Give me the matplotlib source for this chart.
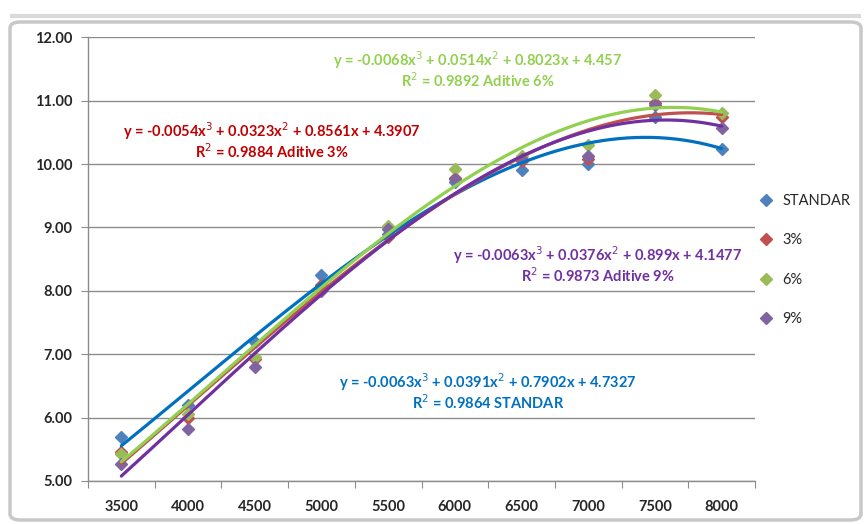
import numpy as np
import matplotlib
matplotlib.use("Agg")
import matplotlib.pyplot as plt
from matplotlib.patches import FancyBboxPatch
from matplotlib.lines import Line2D

# ---- data ----
categories = [3500, 4000, 4500, 5000, 5500, 6000, 6500, 7000, 7500, 8000]
standar = [5.70, 6.20, 7.20, 8.25, 8.90, 9.72, 9.90, 10.00, 10.75, 10.24]
add3 = [5.45, 6.00, 6.92, 8.10, 8.85, 9.78, 10.05, 10.08, 10.96, 10.75]
add6 = [5.42, 6.05, 6.95, 8.05, 9.03, 9.92, 10.12, 10.30, 11.09, 10.81]
add9 = [5.27, 5.82, 6.80, 8.00, 8.97, 9.76, 10.08, 10.12, 10.93, 10.57]

# trendline coefficients (cubic, as displayed in chart)
coef_standar = [-0.0063, 0.0391, 0.7902, 4.7327]
coef_add3 = [-0.0054, 0.0323, 0.8561, 4.3907]
coef_add6 = [-0.0068, 0.0514, 0.8023, 4.457]
coef_add9 = [-0.0063, 0.0376, 0.899, 4.1477]
r2 = {"STANDAR": "0.9864", "3%": "0.9884", "6%": "0.9892", "9%": "0.9873"}

y_ticks = [5, 6, 7, 8, 9, 10, 11, 12]

FONT = ["Lato", "DejaVu Sans"]
plt.rcParams["font.family"] = FONT

W, H = 866, 524
fig = plt.figure(figsize=(W / 100, H / 100), dpi=100)
fig.patch.set_facecolor("white")

# chart frame
frame = FancyBboxPatch((10 / W, 4 / H), 851 / W, 498 / H,
                       boxstyle="round,pad=0,rounding_size=0.012",
                       transform=fig.transFigure, facecolor="white",
                       edgecolor="#C8C8C8", linewidth=2.5, zorder=-5)
fig.add_artist(frame)
fig.add_artist(Line2D([10 / W, 861 / W], [508 / H, 508 / H], transform=fig.transFigure,
                      color="#DADADA", lw=3, solid_capstyle="butt", zorder=-5))

ax = fig.add_axes([88 / W, 1 - 481 / H, (755 - 88) / W, (481 - 37.3) / H])
ax.set_zorder(2)
ax.patch.set_alpha(0)

idx = np.arange(1, len(categories) + 1)
xs = np.linspace(1, len(categories), 300)

series = [
    ("STANDAR", standar, coef_standar, "#4F81BD", "#0070C0"),
    ("3%", add3, coef_add3, "#C0504D", "#C0504D"),
    ("6%", add6, coef_add6, "#9BBB59", "#92D050"),
    ("9%", add9, coef_add9, "#8064A2", "#7030A0"),
]

for name, vals, coef, mcol, lcol in series:
    ax.plot(idx, vals, linestyle="none", marker="D", markersize=6,
            color=mcol, zorder=3)
for name, vals, coef, mcol, lcol in series:
    ax.plot(xs, np.polyval(coef, xs), color=lcol, lw=2.3, zorder=4,
            solid_capstyle="round")

ax.set_xlim(0.5, len(categories) + 0.5)
ax.set_ylim(5, 12)
ax.set_yticks(y_ticks)
ax.set_yticklabels([f"{v:.2f}" for v in y_ticks])
ax.yaxis.grid(True, color="#8C8C8C", lw=1.0)
ax.set_axisbelow(True)

ax.set_xticks(np.arange(0.5, len(categories) + 1, 1.0))
ax.set_xticklabels([])
ax.set_xticks(idx, minor=True)
ax.set_xticklabels([str(c) for c in categories], minor=True)
ax.tick_params(axis="x", which="major", length=5, color="#8C8C8C", direction="out")
ax.tick_params(axis="x", which="minor", length=0, pad=14, labelsize=10.5,
               labelcolor="#262626")
ax.tick_params(axis="y", length=5, color="#8C8C8C", direction="out", pad=6,
               labelsize=10.5, labelcolor="#262626")
for lab in ax.get_yticklabels() + ax.get_xticklabels(minor=True):
    lab.set_fontweight("bold")

for s in ["top", "right"]:
    ax.spines[s].set_visible(False)
for s in ["left", "bottom"]:
    ax.spines[s].set_color("#8C8C8C")
    ax.spines[s].set_linewidth(1.0)


def eq_text(c):
    def f(v):
        return f"{v:g}"
    s = f"y = {f(c[0])}x$^3$ + {f(c[1])}x$^2$ + {f(c[2])}x + {f(c[3])}"
    return s


labels = [
    (coef_add6, "6%", "Aditive 6%", "#92D050", 478, 60),
    (coef_add3, "3%", "Aditive 3%", "#C00000", 272, 131),
    (coef_add9, "9%", "Aditive 9%", "#7030A0", 598, 255),
    (coef_standar, "STANDAR", "STANDAR", "#0070C0", 488, 382),
]
for coef, key, tag, col, cx, cy in labels:
    fig.text(cx / W, 1 - cy / H, eq_text(coef), ha="center", va="center",
             color=col, fontsize=10.5, fontweight="bold", zorder=5)
    fig.text(cx / W, 1 - (cy + 21) / H, f"R$^2$ = {r2[key]} {tag}", ha="center",
             va="center", color=col, fontsize=10.5, fontweight="bold", zorder=5)

# legend
handles = [Line2D([], [], linestyle="none", marker="D", markersize=6, color=m)
           for _, _, _, m, _ in series]
leg = fig.legend(handles, [s[0] for s in series], loc="center left",
                 bbox_to_anchor=(749 / W, 1 - 260 / H), frameon=False,
                 fontsize=10.5, labelspacing=1.75, handlelength=1.0,
                 handletextpad=0.6, borderpad=0.2)
for t in leg.get_texts():
    t.set_color("#262626")

fig.savefig("out.png", dpi=100, facecolor="white")
